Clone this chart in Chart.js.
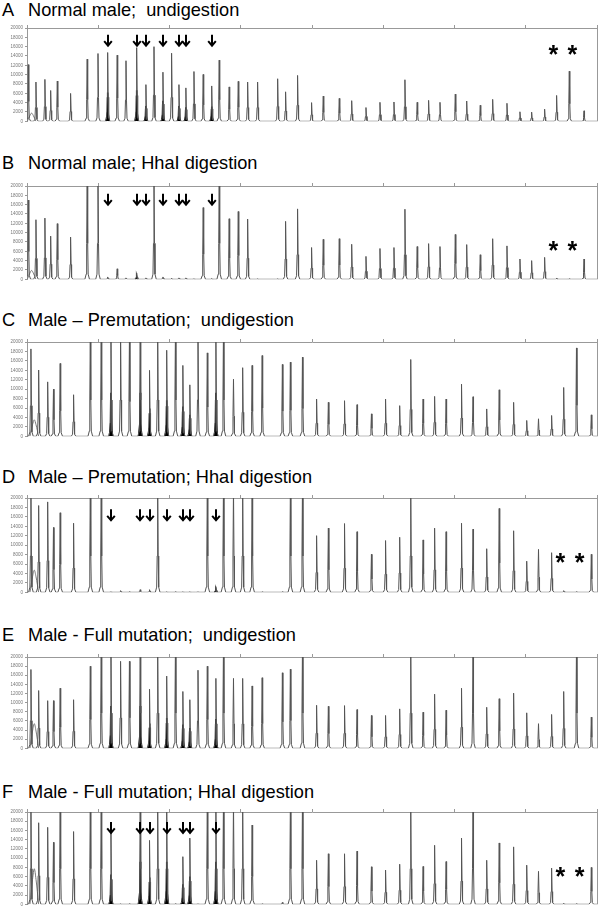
<!DOCTYPE html>
<html>
<head>
<meta charset="utf-8">
<script src="https://cdn.jsdelivr.net/npm/chart.js@4.4.1/dist/chart.umd.min.js"></script>
<style>
  html, body { margin: 0; padding: 0; background: #fff; }
  body { position: relative; width: 600px; height: 909px; overflow: hidden; font-family: "Liberation Sans", Arial, sans-serif; }
  .title { position: absolute; left: 0; width: 600px; height: 18px; font-size: 18.2px; line-height: 18px; white-space: pre; color: #000; }
  .title span { position: absolute; top: 0; }
  canvas { position: absolute; left: 0; }
</style>
</head>
<body>
<script>
// peak positions (scan units, top axis) shared by all six runs
const peakPos = [857, 910, 972, 1012, 1058, 1150, 1265, 1340, 1407, 1473, 1534, 1608, 1672, 1728, 1790,
  1850, 1901, 1949, 2005, 2069, 2128, 2180, 2249, 2312, 2377, 2446, 2585, 2640, 2723, 2820, 2901, 3012,
  3098, 3197, 3294, 3391, 3467, 3552, 3631, 3710, 3816, 3895, 3989, 4075, 4174, 4264, 4345, 4435, 4518,
  4606, 4708];
// methylation-sensitive probes (arrows, black peaks)
const markedPeaks = [8, 11, 12, 14, 16, 17, 20];
const humpPos = 880;

const heightsA = [12140, 8420, 8980, 6600, 8630, 5970, 13330, 14530, 14740, 14180, 12980, 15790, 7860, 16000,
  10530, 14600, 7860, 7160, 10670, 10040, 7580, 13120, 7370, 8560, 8420, 8420, 9120, 6320, 9830, 4000, 5400,
  4910, 4420, 2950, 4070, 4140, 8910, 4070, 4490, 4070, 5830, 4350, 3440, 4700, 3860, 2040, 1970, 2600, 5540,
  10740, 2250];
const heightsB = [16990, 12770, 13120, 9260, 11930, 9050, 22000, 22000, 500, 2250, 300, 1330, 300, 22000, 500,
  200, 300, 300, 100, 15370, 150, 22000, 12980, 14530, 12910, 100, 100, 12420, 15090, 6810, 8560, 8700, 7510,
  4910, 6600, 6810, 15020, 7020, 7650, 7020, 9610, 7440, 5260, 8700, 7160, 4350, 4000, 4700, 280, 100, 4350];
const heightsC = [18530, 14060, 11540, 10000, 15450, 8810, 22000, 22000, 22000, 22000, 21000, 22000, 13990,
  22000, 18250, 22000, 15030, 10910, 22000, 17690, 22000, 22000, 12100, 14550, 15030, 17130, 15240, 15730,
  16780, 7900, 7200, 7550, 6710, 4760, 7900, 6500, 16290, 7900, 8460, 7900, 11050, 8390, 5800, 9860, 7200,
  3360, 3710, 4410, 10350, 18740, 4550];
const heightsD = [22000, 18400, 19170, 13750, 16870, 14650, 22000, 22000, 100, 350, 100, 550, 550, 22000, 100,
  100, 100, 100, 100, 22000, 1200, 22000, 22000, 22000, 22000, 100, 100, 22000, 22000, 12010, 13610, 14580,
  12850, 8060, 10970, 11670, 22000, 11110, 13610, 12850, 14650, 13400, 9240, 17780, 13050, 6600, 9100, 8400,
  350, 100, 8060];
const heightsE = [17260, 12650, 10430, 10430, 13160, 10640, 17980, 22000, 22000, 19050, 19050, 22000, 12940,
  22000, 15820, 22000, 12440, 10640, 17110, 17980, 15310, 22000, 15310, 15310, 13660, 15460, 16540, 17330,
  22000, 9420, 9200, 9350, 8480, 7190, 7190, 8630, 22000, 7910, 11860, 8340, 13160, 22000, 8990, 10860, 12080,
  7770, 5390, 7410, 12440, 22000, 6830];
const heightsF = [22000, 17670, 16680, 13430, 22000, 15760, 22000, 22000, 15410, 100, 100, 22000, 13850, 22000,
  22000, 100, 10320, 14350, 100, 22000, 22000, 22000, 22000, 22000, 17170, 100, 400, 22000, 22000, 9540, 10950,
  10950, 11520, 8130, 7420, 8690, 22000, 8200, 12790, 9260, 14350, 22000, 9540, 13290, 12440, 8480, 7140, 7840,
  200, 100, 7990];
const humpHeights = [1750, 1900, 3500, 4700, 5400, 7700];

const panelLetters = ["A", "B", "C", "D", "E", "F"];
const panelTitles = [
  "Normal male;  undigestion",
  "Normal male; HhaI digestion",
  "Male \u2013 Premutation;  undigestion",
  "Male \u2013 Premutation; HhaI digestion",
  "Male - Full mutation;  undigestion",
  "Male - Full mutation; HhaI digestion"
];
const xTickLabels = [1000, 2000, 3000, 4000];
// arrow tip height and asterisk height per panel (null = none)
const arrowTips = [16200, 16000, null, 15270, null, 15470];
const starPos = [4495, 4628];
const starY = [15370, 7160, null, 7290, null, 7020];

// page layout (pixels)
const layout = [
  { titleTop: 0.8, plotTop: 28, plotBottom: 123, xMin: 848, xMax: 4798 },
  { titleTop: 153.8, plotTop: 186, plotBottom: 281, xMin: 848, xMax: 4798 },
  { titleTop: 310.8, plotTop: 342, plotBottom: 438, xMin: 830, xMax: 4747 },
  { titleTop: 467.8, plotTop: 498, plotBottom: 594, xMin: 830, xMax: 4747 },
  { titleTop: 625.5, plotTop: 657, plotBottom: 750, xMin: 830, xMax: 4747 },
  { titleTop: 782.5, plotTop: 812, plotBottom: 906, xMin: 830, xMax: 4747 }
];
const allHeights = [heightsA, heightsB, heightsC, heightsD, heightsE, heightsF];
const FONT = '"Liberation Sans", Arial, sans-serif';

// each peak: thin spike with a flared base
function traceFor(heights, xMin, xMax) {
  const pts = [{ x: xMin, y: 0 }];
  peakPos.forEach((p, i) => {
    const h = heights[i];
    pts.push({ x: p - 16, y: 0 }, { x: p - 7, y: h * 0.05 }, { x: p - 3.5, y: h * 0.35 }, { x: p, y: h },
      { x: p + 3.5, y: h * 0.35 }, { x: p + 7, y: h * 0.05 }, { x: p + 16, y: 0 });
  });
  pts.push({ x: xMax, y: 0 });
  return pts;
}

function blackFor(heights) {
  const pts = [];
  markedPeaks.forEach((i) => {
    const p = peakPos[i], h = heights[i];
    if (h < 1000) return;
    pts.push({ x: p - 11, y: 0 }, { x: p - 3, y: h * 0.12 }, { x: p, y: h * 0.42 },
      { x: p + 3, y: h * 0.12 }, { x: p + 11, y: 0 }, { x: p + 12, y: null });
  });
  return pts;
}

const marksPlugin = {
  id: "marks",
  afterDatasetsDraw(chart, args, opts) {
    const { ctx, chartArea, scales: { x, y } } = chart;
    ctx.save();
    ctx.strokeStyle = "#999";
    ctx.lineWidth = 1;
    ctx.beginPath();
    ctx.moveTo(chartArea.right + 0.5, chartArea.top);
    ctx.lineTo(chartArea.right + 0.5, chartArea.bottom);
    ctx.stroke();
    if (opts.arrowTip != null) {
      ctx.strokeStyle = "#000";
      ctx.lineWidth = 2;
      markedPeaks.forEach((i) => {
        const px = Math.round(x.getPixelForValue(peakPos[i]));
        const py = y.getPixelForValue(opts.arrowTip);
        ctx.beginPath();
        ctx.moveTo(px, py - 11);
        ctx.lineTo(px, py - 1);
        ctx.stroke();
        ctx.beginPath();
        ctx.moveTo(px - 3.8, py - 4.5);
        ctx.lineTo(px, py);
        ctx.lineTo(px + 3.8, py - 4.5);
        ctx.stroke();
      });
    }
    if (opts.starY != null) {
      ctx.fillStyle = "#000";
      ctx.font = "bold 25px " + FONT;
      ctx.textAlign = "center";
      ctx.textBaseline = "alphabetic";
      const m = ctx.measureText("*");
      const off = (m.actualBoundingBoxAscent - m.actualBoundingBoxDescent) / 2;
      starPos.forEach((v) => {
        ctx.fillText("*", x.getPixelForValue(v), y.getPixelForValue(opts.starY) + off);
      });
    }
    ctx.restore();
  }
};

layout.forEach((L, k) => {
  const title = document.createElement("div");
  title.className = "title";
  title.style.top = L.titleTop + "px";
  const letter = document.createElement("span");
  letter.style.left = "2px";
  letter.textContent = panelLetters[k];
  const text = document.createElement("span");
  text.style.left = "28px";
  text.textContent = panelTitles[k];
  title.appendChild(letter);
  title.appendChild(text);
  document.body.appendChild(title);

  const canvas = document.createElement("canvas");
  canvas.width = 600;
  canvas.height = L.plotBottom - L.plotTop + 11;
  canvas.style.top = (L.plotTop - 8) + "px";
  document.body.appendChild(canvas);

  const heights = allHeights[k];
  const hh = humpHeights[k];
  new Chart(canvas, {
    type: "line",
    data: {
      datasets: [
        {
          data: traceFor(heights, L.xMin, L.xMax),
          borderColor: "#555",
          borderWidth: 1,
          pointRadius: 0,
          tension: 0,
          fill: false
        },
        {
          data: [{ x: humpPos - 30, y: 0 }, { x: humpPos - 12, y: hh * 0.7 }, { x: humpPos, y: hh },
            { x: humpPos + 12, y: hh * 0.7 }, { x: humpPos + 30, y: 0 }],
          borderColor: "#777",
          borderWidth: 1,
          pointRadius: 0,
          cubicInterpolationMode: "monotone",
          fill: false
        },
        {
          data: blackFor(heights),
          borderColor: "#000",
          backgroundColor: "#000",
          borderWidth: 1.5,
          pointRadius: 0,
          tension: 0,
          spanGaps: false,
          fill: "origin"
        }
      ]
    },
    options: {
      responsive: false,
      animation: false,
      events: [],
      layout: { padding: { top: 0, right: 3, bottom: 3, left: 0 } },
      plugins: {
        legend: { display: false },
        tooltip: { enabled: false },
        marks: { arrowTip: arrowTips[k], starY: starY[k] }
      },
      scales: {
        x: {
          type: "linear",
          position: "top",
          min: L.xMin,
          max: L.xMax,
          ticks: {
            stepSize: 500,
            includeBounds: false,
            autoSkip: false,
            maxRotation: 0,
            padding: 0,
            font: { size: 4.5, family: FONT },
            color: "#777",
            callback: (v) => (xTickLabels.includes(v) ? String(v) : "")
          },
          grid: { drawOnChartArea: false, tickLength: 3, color: "#999" },
          border: { color: "#999" },
          afterFit: (s) => { s.height = 8; }
        },
        y: {
          min: 0,
          max: 20000,
          ticks: {
            stepSize: 2000,
            padding: 2,
            font: { size: 4.5, family: FONT },
            color: "#777",
            callback: (v) => String(v)
          },
          grid: { drawOnChartArea: false, tickLength: 2, color: "#999" },
          border: { color: "#999" },
          afterFit: (s) => { s.width = 27; }
        }
      }
    },
    plugins: [marksPlugin]
  });
});
</script>
</body>
</html>
